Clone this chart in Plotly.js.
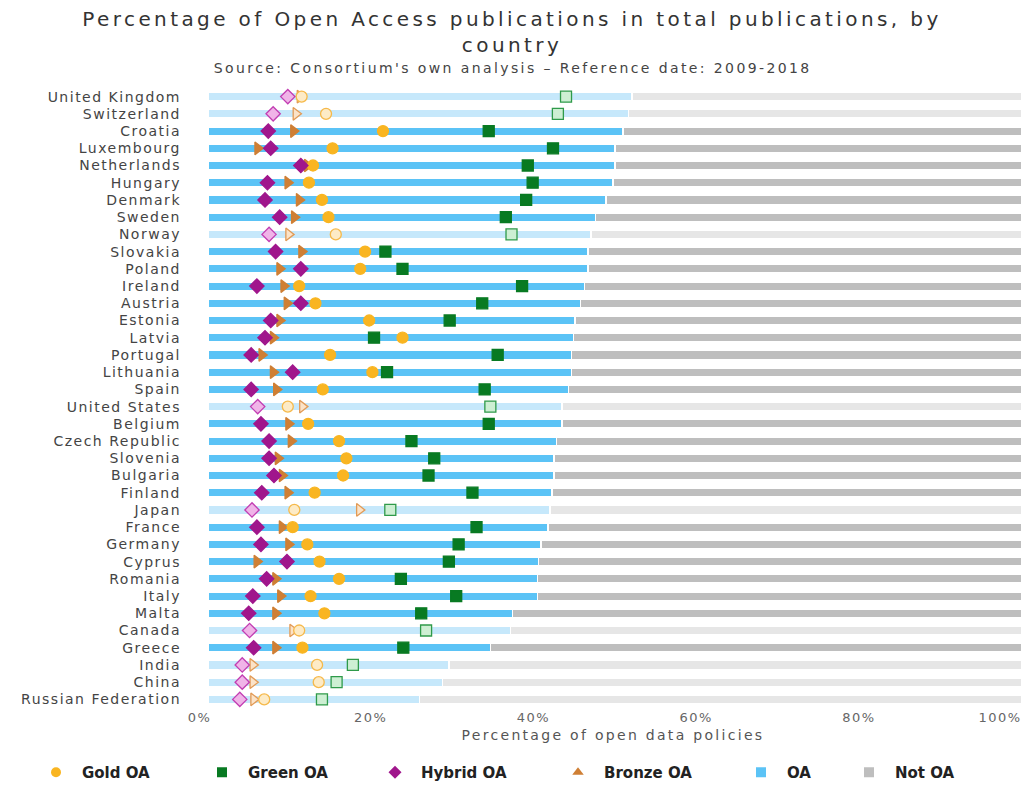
<!DOCTYPE html>
<html>
<head>
<meta charset="utf-8">
<script src="https://cdn.plot.ly/plotly-3.0.1.min.js"></script>
<style>
  html, body { margin: 0; padding: 0; background: #fff; }
  #chart { width: 1024px; height: 785px; }
  /* reference text is drawn horizontally stretched: widen it with letter spacing */
  #chart .gtitle { letter-spacing: 3.4px; }
  #chart .annotation-text { letter-spacing: 2.4px; }
  #chart .ytick text { letter-spacing: 1.5px; }
  #chart .xtick text { letter-spacing: 1.5px; }
  #chart .xtick:last-of-type text { text-anchor: end; }
  #chart .xtitle { letter-spacing: 2.3px; }
</style>
</head>
<body>
<div id="chart"></div>
<script>
// ---------- DATA ----------
const countries = ["United Kingdom","Switzerland","Croatia","Luxembourg","Netherlands","Hungary","Denmark","Sweden","Norway","Slovakia","Poland","Ireland","Austria","Estonia","Latvia","Portugal","Lithuania","Spain","United States","Belgium","Czech Republic","Slovenia","Bulgaria","Finland","Japan","France","Germany","Cyprus","Romania","Italy","Malta","Canada","Greece","India","China","Russian Federation"];
const nonEU = ["United Kingdom","Switzerland","Norway","United States","Japan","Canada","India","China","Russian Federation"];
const oaShare = [52.1,51.7,51.0,50.0,50.0,49.8,48.9,47.6,47.1,46.7,46.7,46.3,45.8,45.1,44.9,44.7,44.7,44.3,43.5,43.5,42.8,42.5,42.5,42.3,42.0,41.8,40.9,40.6,40.5,40.5,37.4,37.2,34.7,29.6,28.8,26.0];
const goldOA = [11.5,14.5,21.5,15.3,12.9,12.4,14.0,14.8,15.7,19.3,18.7,11.2,13.2,19.8,23.9,15.0,20.2,14.1,9.8,12.3,16.1,17.0,16.6,13.1,10.6,10.4,12.2,13.7,16.1,12.6,14.3,11.2,11.6,13.4,13.6,6.9];
const greenOA = [44.0,43.0,34.5,42.4,39.3,39.9,39.1,36.6,37.3,21.8,23.9,38.6,33.7,29.7,20.4,35.6,22.0,34.0,34.7,34.5,25.0,27.8,27.1,32.5,22.4,33.0,30.8,29.6,23.7,30.5,26.2,26.8,24.0,17.8,15.8,14.0];
const hybridOA = [9.8,8.0,7.4,7.7,11.4,7.3,7.0,8.8,7.5,8.3,11.4,6.0,11.4,7.7,7.0,5.3,10.4,5.3,6.1,6.5,7.5,7.5,8.1,6.6,5.4,6.0,6.5,9.7,7.2,5.5,5.0,5.1,5.6,4.2,4.2,3.9];
const bronzeOA = [11.3,10.8,10.5,6.1,12.2,9.8,11.2,10.6,9.9,11.5,8.8,9.3,9.7,8.8,8.0,6.6,8.0,8.4,11.6,9.9,10.2,8.6,9.1,9.8,18.6,9.1,9.9,6.0,8.3,8.9,8.3,10.4,8.3,5.5,5.5,5.6];
const tickVals = [0,20,40,60,80,100];
const tickLabels = ["0%","20%","40%","60%","80%","100%"];
const legendNames = ["Gold OA","Green OA","Hybrid OA","Bronze OA","OA","Not OA"];

// ---------- STYLE ----------
const FONT = "DejaVu Sans, Liberation Sans, Arial, sans-serif";
const C = {
  oa:     {full:"#5BC3F6", fade:"#C6E8FB"},
  notoa:  {full:"#BEBEBE", fade:"#E6E6E6"},
  gold:   {full:"#F9B521", fade:"#FDEBC6", line:"#F6B94A"},
  green:  {full:"#087A22", fade:"#CDEFD3", line:"#2F9A4A"},
  hybrid: {full:"#A0168C", fade:"#F0B4E8", line:"#C23DB2"},
  bronze: {full:"#CF7F34", fade:"#FBE3C8", line:"#E29A55"}
};
const isFaded = countries.map(c => nonEU.includes(c));
const notOA = oaShare.map(v => 100 - v);
const pick = key => isFaded.map(f => f ? C[key].fade : C[key].full);
const pickLine = key => isFaded.map(f => f ? C[key].line : C[key].full);

// the reference pulls the first tick label slightly inward
const NB = "\u00a0";
const tickText = tickLabels.map((t, i) => i === 0 ? t + NB.repeat(3) : t);

function markerTrace(name, values, key, symbol, size) {
  return {
    type: "scatter", mode: "markers", name: name, showlegend: false,
    x: values, y: countries, hoverinfo: "x+y",
    marker: { symbol: symbol, size: size, color: pick(key),
              line: { color: pickLine(key), width: 1.3 } },
    cliponaxis: false
  };
}

const traces = [
  { type:"bar", orientation:"h", name:"OA", showlegend:false, x: oaShare, y: countries,
    marker:{ color: pick("oa"), line:{ color:"#ffffff", width:1.5 } } },
  { type:"bar", orientation:"h", name:"Not OA", showlegend:false, x: notOA, y: countries,
    marker:{ color: pick("notoa"), line:{ color:"#ffffff", width:1.5 } } },
  markerTrace("Bronze OA", bronzeOA, "bronze", "triangle-right", 11),
  markerTrace("Gold OA", goldOA, "gold", "circle", 11),
  markerTrace("Green OA", greenOA, "green", "square", 11),
  markerTrace("Hybrid OA", hybridOA, "hybrid", "diamond", 11)
];

// legend entries (each in its own legend to match spacing)
const legendSymbols = ["circle","square","diamond","triangle-up","square","square"];
const legendColors = [C.gold.full, C.green.full, C.hybrid.full, C.bronze.full, C.oa.full, C.notoa.full];
const legendIds = ["legend","legend2","legend3","legend4","legend5","legend6"];
const legendIcon = [56, 222, 395, 578, 761, 869];
legendNames.forEach((n, i) => {
  traces.push({ type:"scatter", mode:"markers", name:n, x:[null], y:[null],
    legend: legendIds[i], showlegend:true,
    marker:{ symbol: legendSymbols[i], size: 10, color: legendColors[i] } });
});

const L = 204, R = 2, T = 88, B = 77, W = 1024, H = 785;
const plotW = W - L - R, plotH = H - T - B;

const layout = {
  width: W, height: H,
  margin: { l: L, r: R, t: T, b: B, autoexpand: false },
  paper_bgcolor: "#ffffff", plot_bgcolor: "#ffffff",
  font: { family: FONT, color: "#444" },
  barmode: "stack", bargap: 0.5,
  title: { text: "Percentage of Open Access publications in total publications, by<br>country",
           x: 0.5, xanchor: "center", y: 1 - 26/H, yanchor: "top",
           font: { family: FONT, size: 20, color: "#333" } },
  annotations: [{
    text: "Source: Consortium's own analysis – Reference date: 2009-2018",
    xref: "paper", yref: "paper", x: (512 - L)/plotW, y: 1 + (T - 68)/plotH,
    xanchor: "center", yanchor: "middle", showarrow: false,
    font: { family: FONT, size: 14, color: "#444" }
  }],
  xaxis: {
    range: [-0.5, 100.05], tickmode: "array", tickvals: tickVals, ticktext: tickText,
    ticklabeloverflow: "allow",
    showgrid: false, zeroline: false, showline: false, ticks: "",
    tickfont: { family: FONT, size: 13, color: "#666" },
    title: { text: "Percentage of open data policies", standoff: 6,
             font: { family: FONT, size: 14, color: "#555" } },
    automargin: false, fixedrange: true
  },
  yaxis: {
    type: "category", categoryorder: "array", categoryarray: countries,
    range: [countries.length - 0.5, -0.5],
    tickmode: "linear", dtick: 1,
    showgrid: false, zeroline: false, showline: false, ticks: "",
    ticklabelstandoff: 22,
    tickfont: { family: FONT, size: 14, color: "#444" },
    automargin: false, fixedrange: true
  }
};
legendIds.forEach((id, i) => {
  layout[id] = { orientation: "h", itemwidth: 42, x: (legendIcon[i] - 26 - L)/plotW, xanchor: "left",
    y: -(756 - (T + plotH))/plotH, yanchor: "top", bgcolor: "rgba(0,0,0,0)",
    font: { family: FONT, size: 15, color: "#222", weight: "bold" } };
});

Plotly.newPlot("chart", traces, layout, { displayModeBar: false, staticPlot: true });
</script>
</body>
</html>
